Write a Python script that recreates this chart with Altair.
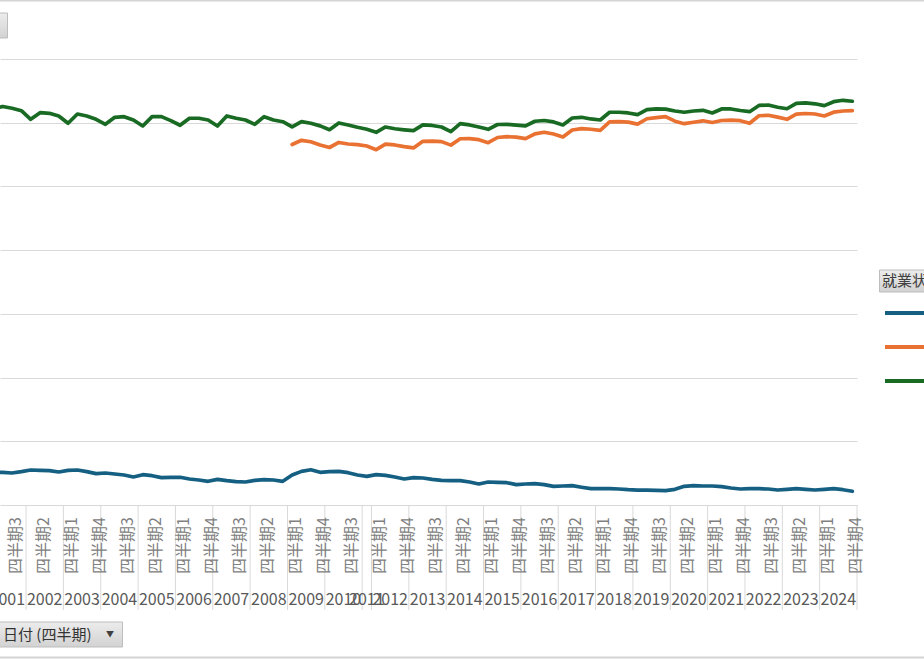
import altair as alt
import pandas as pd

FONT = "Noto Sans CJK JP"

# Quarterly categories; 2011 only has its fourth quarter in this series
YEARS = list(range(2001, 2025))
QUARTERS = [1, 2, 3, 4]
PARTIAL_YEARS = {2011: [4]}

SERIES = ["完全失業率", "就業率", "労働力人口比率"]
COLORS = ["#156082", "#E97132", "#196B24"]

# 完全失業率 (%), 2001Q1 .. 2024Q4
unemployment = [
    5.07, 5.13, 5.02, 5.23, 5.49, 5.44, 5.39, 5.18, 5.44, 5.49,
    5.23, 4.92, 5.02, 4.87, 4.71, 4.40, 4.76, 4.60, 4.29, 4.35,
    4.35, 4.08, 3.92, 3.72, 4.03, 3.82, 3.66, 3.61, 3.87, 3.97,
    3.92, 3.72, 4.71, 5.28, 5.54, 5.13, 5.23, 5.28, 5.07, 4.71,
    4.50, 4.76, 4.66, 4.40, 4.08, 4.29, 4.24, 4.03, 3.87, 3.82,
    3.82, 3.61, 3.30, 3.61, 3.56, 3.50, 3.19, 3.30, 3.35, 3.19,
    2.93, 2.98, 3.03, 2.78, 2.56, 2.56, 2.56, 2.51, 2.40, 2.35,
    2.35, 2.30, 2.25, 2.46, 2.93, 3.03, 2.98, 2.98, 2.88, 2.67,
    2.51, 2.56, 2.56, 2.51, 2.35, 2.46, 2.56, 2.46, 2.35, 2.46,
    2.56, 2.40, 2.15,
]

# 就業率 (%), 2009Q1 .. 2024Q4
employment = [
    56.58, 57.24, 57.01, 56.51, 56.11, 56.90, 56.66, 56.55, 56.35, 55.77,
    56.63, 56.51, 56.24, 56.04, 57.08, 57.10, 57.03, 56.48, 57.48, 57.50,
    57.34, 56.87, 57.68, 57.81, 57.73, 57.50, 58.26, 58.50, 58.23, 57.76,
    58.86, 59.06, 58.97, 58.81, 60.12, 60.16, 60.09, 59.77, 60.62, 60.79,
    60.95, 60.24, 59.85, 60.07, 60.30, 60.04, 60.35, 60.40, 60.32, 59.91,
    61.09, 61.17, 60.87, 60.54, 61.34, 61.45, 61.37, 61.06, 61.65, 61.84,
    61.89,
]

# 労働力人口比率 (%), 2001Q1 .. 2024Q4
participation = [
    62.16, 62.55, 62.27, 61.89, 60.54, 61.58, 61.48, 61.06, 59.91, 61.37,
    61.06, 60.54, 59.75, 60.85, 60.95, 60.43, 59.49, 60.95, 60.95, 60.32,
    59.60, 60.70, 60.70, 60.43, 59.49, 61.06, 60.70, 60.43, 59.75, 60.95,
    60.43, 60.16, 59.33, 60.16, 59.91, 59.50, 58.91, 59.96, 59.65, 59.28,
    58.97, 58.50, 59.33, 59.05, 58.89, 58.75, 59.65, 59.57, 59.33, 58.60,
    59.85, 59.65, 59.33, 58.97, 59.72, 59.75, 59.61, 59.49, 60.23, 60.35,
    60.12, 59.65, 60.74, 60.85, 60.59, 60.43, 61.64, 61.64, 61.53, 61.27,
    62.05, 62.16, 62.13, 61.84, 61.64, 61.84, 61.95, 61.53, 62.16, 62.16,
    61.92, 61.73, 62.71, 62.78, 62.42, 62.19, 63.05, 63.10, 62.97, 62.68,
    63.30, 63.52, 63.37,
]

# ---- category table -------------------------------------------------------
rows = [(y, q) for y in YEARS for q in PARTIAL_YEARS.get(y, QUARTERS)]
cat = pd.DataFrame(rows, columns=["year", "quarter"])
cat["idx"] = range(len(cat))
cat["qlabel"] = "四半期" + cat["quarter"].astype(str)

frames = []
for name, vals in zip(SERIES, [unemployment, employment, participation]):
    part = cat.iloc[len(cat) - len(vals):].copy()
    part["series"] = name
    part["value"] = vals
    frames.append(part)
long = pd.concat(frames, ignore_index=True)

year_mid = cat.groupby("year", as_index=False)["idx"].mean()
year_mid["ylabel"] = year_mid["year"].astype(str)

seps = pd.DataFrame({"pos": list(cat.groupby("year")["idx"].min() - 0.5)
                     + [cat["idx"].max() + 0.5]})

# ---- layout -----------------------------------------------------------------
PLOT_W, PLOT_H = 857, 446
VIEW_START = 0.71                      # first category lies just past the left edge
xs = alt.Scale(domain=[VIEW_START, cat["idx"].max() + 0.5], nice=False, zero=False)
ys = alt.Scale(domain=[0, 70], nice=False, zero=True)

lines = alt.Chart(long).mark_line(
    strokeWidth=3.7, strokeJoin="round", strokeCap="round", clip=True
).encode(
    x=alt.X("idx:Q", scale=xs, axis=None),
    y=alt.Y("value:Q", scale=ys,
            axis=alt.Axis(values=list(range(0, 71, 10)), labels=False, ticks=False,
                          domain=False, title=None, grid=True,
                          gridColor="#d9d9d9", gridWidth=1)),
    color=alt.Color("series:N",
                    scale=alt.Scale(domain=SERIES, range=COLORS),
                    legend=alt.Legend(title=None, orient="none", legendX=883, legendY=244,
                                      symbolType="M-1,0H4", symbolSize=256,
                                      symbolStrokeWidth=4, labelOffset=50,
                                      rowPadding=16, labelFontSize=16, labelFont=FONT,
                                      padding=0)),
    detail="series:N",
)

qlabels = alt.Chart(cat).transform_filter("datum.idx % 3 == 2").mark_text(
    angle=270, align="right", baseline="middle", dy=3.7,
    fontSize=16, font=FONT, color="#808080"
).encode(
    x=alt.X("idx:Q", scale=xs, axis=None),
    y=alt.value(PLOT_H + 12),
    text="qlabel:N",
)

ylabels = alt.Chart(year_mid).mark_text(
    align="center", baseline="middle", fontSize=16, font=FONT, color="#595959"
).encode(
    x=alt.X("idx:Q", scale=xs, axis=None),
    y=alt.value(PLOT_H + 95),
    text="ylabel:N",
)

separators = alt.Chart(seps).mark_rule(color="#d9d9d9", strokeWidth=1).encode(
    x=alt.X("pos:Q", scale=xs, axis=None),
    y=alt.value(PLOT_H),
    y2=alt.value(PLOT_H + 105),
)

# ---- pivot field buttons and frame ----------------------------------------
button_fill = alt.Gradient(
    gradient="linear", x1=0, x2=0, y1=0, y2=1,
    stops=[alt.GradientStop(color="#ececec", offset=0),
           alt.GradientStop(color="#d2d2d2", offset=1)],
)
one = pd.DataFrame({"k": [0]})


def button(x1, x2, y1, y2):
    return alt.Chart(one).mark_rect(fill=button_fill, stroke="#bdbdbd", strokeWidth=1).encode(
        x=alt.value(x1), x2=alt.value(x2), y=alt.value(y1), y2=alt.value(y2))


def label(text, x, y, size=15, align="left", color="#333333"):
    return alt.Chart(pd.DataFrame({"t": [text]})).mark_text(
        align=align, baseline="middle", fontSize=size, font=FONT, color=color
    ).encode(x=alt.value(x), y=alt.value(y), text="t:N")


top_button = button(-20, 7.5, -46, -21)
axis_button = button(-20, 122.5, 563, 588)
axis_button_text = label("日付 (四半期)", 3, 575.5)
axis_button_arrow = label("▼", 110, 576, size=8, align="center", color="#404040")
legend_button = button(879.5, 960, 211, 233)
legend_button_text = label("就業状態", 882, 222, color="#404040")

frame = alt.Chart(pd.DataFrame({"yy": [-58.5, 598.5]})).mark_rule(
    color="#d4d4d4", strokeWidth=2
).encode(x=alt.value(-10), x2=alt.value(940), y=alt.value(-58.5)).transform_filter("datum.yy < 0")
frame_bottom = alt.Chart(one).mark_rule(color="#d4d4d4", strokeWidth=2).encode(
    x=alt.value(-10), x2=alt.value(940), y=alt.value(598.5))

chart = alt.layer(
    separators, lines, qlabels, ylabels,
    top_button, axis_button, axis_button_text, axis_button_arrow,
    legend_button, legend_button_text, frame, frame_bottom,
).properties(
    width=PLOT_W, height=PLOT_H,
    autosize=alt.AutoSizeParams(type="none"),
    padding={"left": 0, "top": 59, "right": 924 - PLOT_W, "bottom": 660 - 59 - PLOT_H},
    background="white",
).configure_view(stroke=None)

chart.save("out.html", embed_options={"renderer": "svg", "actions": False})
